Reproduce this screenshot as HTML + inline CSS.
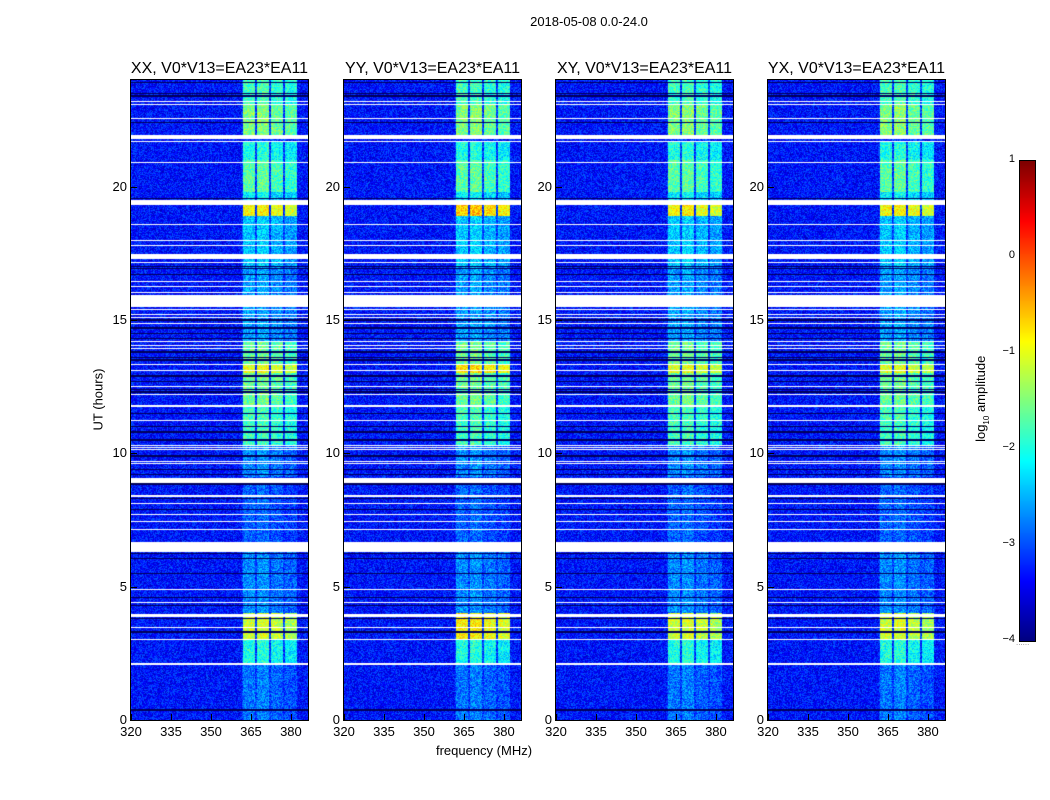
<!DOCTYPE html>
<html><head><meta charset="utf-8">
<style>
body{margin:0;background:#fff;width:1050px;height:800px;position:relative;overflow:hidden;font-family:"Liberation Sans","DejaVu Sans",sans-serif;}
.t{position:absolute;white-space:nowrap;color:#000;}
canvas{position:absolute;}
</style></head><body>
<div class="t" style="left:489px;top:14px;width:200px;text-align:center;font-size:13px;">2018-05-08 0.0-24.0</div>
<div class="t" style="left:48px;top:392px;width:100px;text-align:center;font-size:13px;transform:rotate(-90deg);">UT (hours)</div>
<div class="t" style="left:384px;top:743px;width:200px;text-align:center;font-size:13px;">frequency (MHz)</div>
<div class="t" style="left:922px;top:390px;width:120px;text-align:center;font-size:13px;transform:rotate(-90deg);">log<sub style="font-size:8px">10</sub> amplitude</div>
<canvas id="cb" width="15" height="480" style="left:1019px;top:160px;border:1px solid #000;"></canvas>
<div class="t" style="left:1016px;top:638px;font-size:8px;color:#888;">......</div>
<div id="root"></div>
<script>
// ---- data ----
var panels=["XX","YY","XY","YX"];
var panelLeft=[131,344,556,768];
var panelBoost=[0,0.25,0,0];
var xTicks=[320,335,350,365,380];
var yTicks=[0,5,10,15,20];
var cbTicks=[1,0,-1,-2,-3,-4];
var bandStart=[362,367.2,372.5,377.7];
var bandWidth=4.5;
var bandGain=[0.1,0.15,0,-0.1];
var segStart=[0,2.1,3.0,4.0,6.6,9.1,10.3,11.8,13.0,13.35,14.2,17.0,18.9,19.5,19.8,21.0,21.9,23.1];
var segEnd  =[2.1,3.0,4.0,6.3,9.0,10.3,11.8,13.0,13.35,14.2,17.0,18.9,19.3,19.8,21.0,21.7,23.1,24.0];
var segVal  =[-2.9,-2.1,-1.2,-2.8,-3.0,-2.8,-1.9,-1.7,-1.1,-1.7,-2.7,-2.5,-1.0,-2.3,-1.8,-2.1,-1.6,-1.9];
var whiteStart=[23.18,23.06,22.54,21.8,21.67,20.88,19.32,18.57,17.95,17.76,17.3,17.12,16.44,16.23,16.01,15.5,15.36,15.17,15.07,14.85,14.17,14.04,13.92,13.32,13.07,12.48,12.17,11.79,11.73,11.2,10.29,10.2,10.12,9.6,9.67,8.88,8.38,8.1,7.67,7.42,7.13,6.3,4.88,4.38,3.86,3.45,3.01,2.08];
var whiteEnd  =[23.22,23.1,22.58,21.92,21.71,20.92,19.5,18.61,17.99,17.8,17.48,17.16,16.48,16.27,16.05,15.92,15.4,15.21,15.11,14.89,14.21,14.08,13.96,13.36,13.11,12.52,12.21,11.83,11.77,11.24,10.33,10.24,10.16,9.64,9.71,9.08,8.42,8.14,7.71,7.46,7.17,6.66,4.92,4.42,3.99,3.49,3.05,2.12];
var blackHr=[23.9,23.5,23.4,22.4,19.55,17.0,16.93,16.7,15.0,14.7,14.5,14.3,13.8,13.6,13.5,12.9,12.7,12.4,12.3,11.5,11.0,10.8,10.5,9.9,9.4,9.2,8.85,8.3,7.9,6.25,6.05,5.5,4.6,4.3,3.8,3.3,0.4,0.35];
var bgVal=-3.3;
// ---- helpers ----
function jet(t){t=Math.max(0,Math.min(1,t));
 function c(x){return Math.max(0,Math.min(1,x));}
 var r=c(1.5-Math.abs(4*t-3)),g=c(1.5-Math.abs(4*t-2)),b=c(1.5-Math.abs(4*t-1));
 return [r*255|0,g*255|0,b*255|0];}
function hash(x,y){var h=(x*374761393+y*668265263)|0;h=(h^(h>>>13))*1274126177|0;return ((h^(h>>>16))>>>0)/4294967296;}
var W=177,H=640,f0=320,f1=386.4,h0=0,h1=24;
function xs(f){return (f-f0)/(f1-f0)*W;}
function ys(h){return H-(h-h0)/(h1-h0)*H;}
var root=document.getElementById('root');
panels.forEach(function(p,pi){
 var L=panelLeft[pi];
 var cv=document.createElement('canvas');
 cv.width=W;cv.height=H;cv.style.left=L+'px';cv.style.top='80px';cv.style.outline='1px solid #000';
 
 
 root.appendChild(cv);
 var ctx=cv.getContext('2d');var img=ctx.createImageData(W,H);
 for(var y=0;y<H;y++){
  var hr=h1-(y+0.5)/H*(h1-h0);
  var white=false;for(var k=0;k<whiteStart.length;k++){if(hr>=whiteStart[k]&&hr<=whiteEnd[k]){white=true;break;}}
  var black=false;for(k=0;k<blackHr.length;k++){if(Math.abs(hr-blackHr[k])<0.025){black=true;break;}}
  var sv=bgVal;for(k=0;k<segStart.length;k++){if(hr>=segStart[k]&&hr<segEnd[k]){sv=segVal[k];break;}}
  for(var x=0;x<W;x++){
   var i=(y*W+x)*4,col;
   if(white){col=[255,255,255];}
   else if(black){col=[0,0,90];}
   else{
    var fr=f0+(x+0.5)/W*(f1-f0),v=bgVal;
    for(k=0;k<bandStart.length;k++){if(fr>=bandStart[k]&&fr<bandStart[k]+bandWidth){v=sv+bandGain[k]+panelBoost[pi]*(sv>-1.3?1:0);break;}}
    if(v===bgVal&&fr>bandStart[0]-0.3&&fr<bandStart[3]+bandWidth)v=bgVal+0.2;
    v+= (hash(x+pi*999,y)-0.5)*0.8;
    col=jet((v+4)/5);
   }
   img.data[i]=col[0];img.data[i+1]=col[1];img.data[i+2]=col[2];img.data[i+3]=255;
  }
 }
 ctx.putImageData(img,0,0);
 var tt=document.createElement('div');tt.className='t';
 
 
 tt.style.cssText='left:'+(L-20)+'px;top:60px;width:217px;text-align:center;font-size:16px;';
 tt.textContent=p+', V0*V13=EA23*EA11';root.appendChild(tt);
 xTicks.forEach(function(v){
  var d=document.createElement('div');d.className='t';
  
  
  d.style.cssText='left:'+(L+xs(v)-20)+'px;top:724px;width:40px;text-align:center;font-size:13px;';
  d.textContent=v;root.appendChild(d);
  var m=document.createElement('div');
  
  
  m.style.cssText='position:absolute;left:'+(L+xs(v))+'px;top:714px;width:1px;height:6px;background:#000;';root.appendChild(m);
 });
 yTicks.forEach(function(v){
  var d=document.createElement('div');d.className='t';
  
  
  d.style.cssText='left:'+(L-44)+'px;top:'+(80+ys(v)-8)+'px;width:40px;text-align:right;font-size:13px;';
  d.textContent=v;root.appendChild(d);
  var m=document.createElement('div');
  
  
  m.style.cssText='position:absolute;left:'+L+'px;top:'+(80+ys(v))+'px;width:6px;height:1px;background:#000;';root.appendChild(m);
 });
});
// colorbar
var cb=document.getElementById('cb').getContext('2d');
for(var y=0;y<480;y++){var c=jet(1-y/480);cb.fillStyle='rgb('+c+')';cb.fillRect(0,y,15,1);}
cbTicks.forEach(function(v){
 var d=document.createElement('div');d.className='t';
 
 
 var yy=160+(1-v)/5*480;
 d.style.cssText='left:985px;top:'+(yy-7)+'px;width:30px;text-align:right;font-size:11px;';
 d.textContent=v<0?'\u2212'+(-v):v;root.appendChild(d);
});
</script>
</body></html>
